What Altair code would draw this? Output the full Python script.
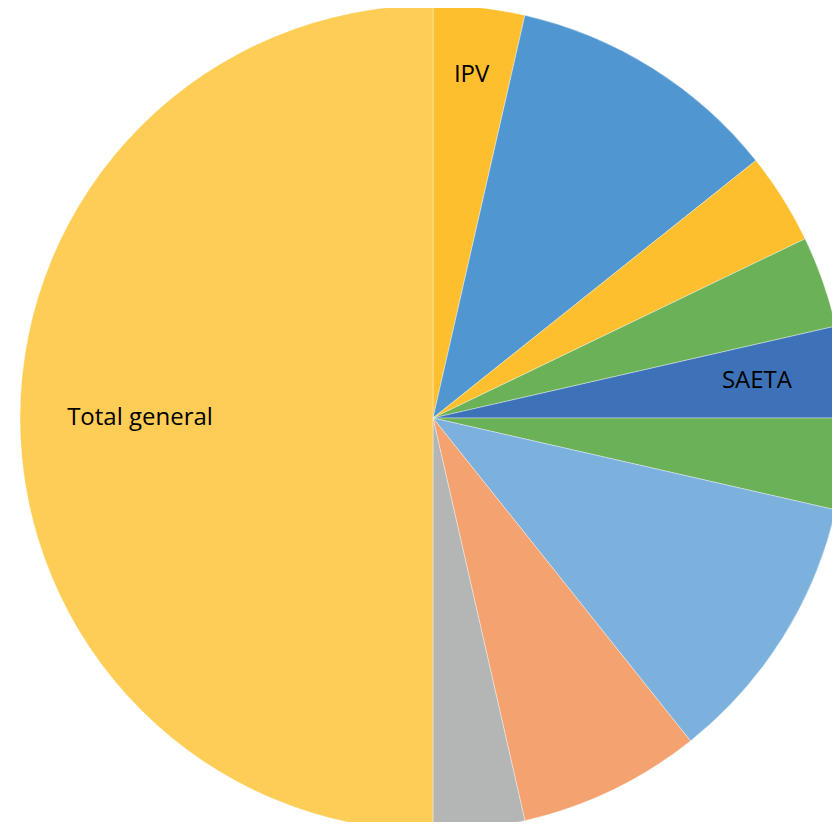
import altair as alt
import pandas as pd

categories = ["IPV", "Cat 2", "Cat 3", "Cat 4", "SAETA", "Cat 6", "Cat 7", "Cat 8", "Cat 9", "Total general"]
values = [1, 3, 1, 1, 1, 1, 3, 2, 1, 14]
labels = ["IPV", "", "", "", "SAETA", "", "", "", "", "Total general"]
colors = ["#FDBF2D", "#5097D1", "#FDBF2D", "#6BB157", "#3D72B9", "#6BB157", "#7CB1DE", "#F4A370", "#B4B6B6", "#FDCD55"]

df = pd.DataFrame({
    "cat": categories,
    "val": values,
    "label": labels,
    "idx": list(range(len(categories))),
})

CX, CY, R = 425, 410, 413

base = alt.Chart(df).encode(
    theta=alt.Theta("val:Q", stack=True),
    order=alt.Order("idx:Q"),
)

arcs = base.mark_arc(radius=R, stroke="white", strokeWidth=0.6, strokeOpacity=0.6).encode(
    color=alt.Color("cat:N", scale=alt.Scale(domain=categories, range=colors), legend=None),
    x=alt.value(CX),
    y=alt.value(CY),
)

def label_layer(name, rad):
    return base.transform_calculate(
        lab="datum.cat == '" + name + "' ? datum.label : ''"
    ).mark_text(radius=rad, font="Open Sans", fontSize=24, color="black").encode(
        text="lab:N",
        x=alt.value(CX),
        y=alt.value(CY),
    )

chart = alt.layer(
    arcs,
    label_layer("IPV", 345),
    label_layer("SAETA", 326),
    label_layer("Total general", 293),
).properties(
    width=824, height=814, padding=0,
    autosize=alt.AutoSizeParams(type="none"),
).configure_view(stroke=None)

chart.save("out.html", embed_options={"renderer": "svg", "actions": False})
